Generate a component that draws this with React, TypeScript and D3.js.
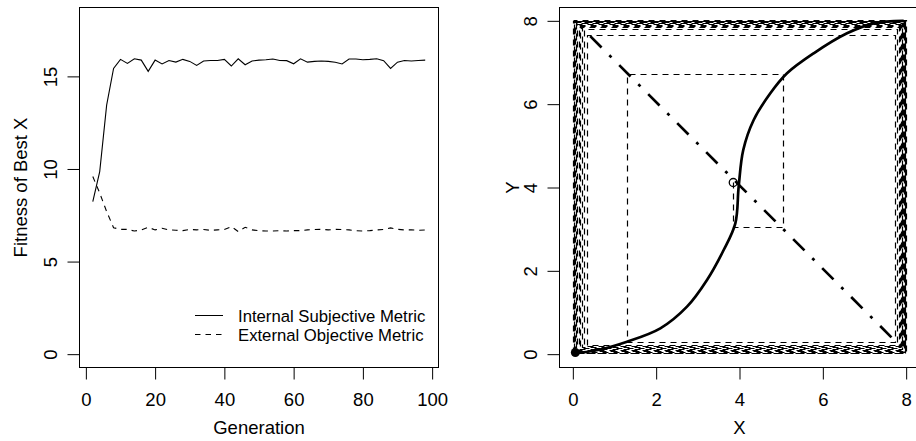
import * as d3 from 'd3';
import { useEffect, useRef } from 'react';

// left panel: fitness per generation
const generations = d3.range(2, 100, 2);
const internalMetric = [
  8.24, 9.86, 13.45, 15.43, 15.92, 15.70, 15.95, 15.88, 15.27, 15.88,
  15.67, 15.86, 15.77, 15.92, 15.81, 15.59, 15.83, 15.86, 15.86, 15.92,
  15.56, 15.95, 15.63, 15.83, 15.88, 15.90, 15.94, 15.86, 15.85, 15.68,
  15.95, 15.77, 15.81, 15.83, 15.81, 15.76, 15.67, 15.94, 15.94, 15.90,
  15.92, 15.95, 15.85, 15.43, 15.77, 15.86, 15.83, 15.86, 15.88,
];
const externalMetric = [
  9.59, 8.70, 7.70, 6.83, 6.74, 6.74, 6.65, 6.71, 6.85, 6.71,
  6.80, 6.71, 6.69, 6.67, 6.74, 6.71, 6.73, 6.69, 6.71, 6.73,
  6.89, 6.62, 6.85, 6.71, 6.67, 6.65, 6.65, 6.67, 6.65, 6.67,
  6.67, 6.71, 6.73, 6.74, 6.71, 6.74, 6.73, 6.71, 6.67, 6.65,
  6.67, 6.71, 6.73, 6.82, 6.74, 6.71, 6.71, 6.69, 6.71,
];
const legendLabels = ['Internal Subjective Metric', 'External Objective Metric'];
const genTicks = [0, 20, 40, 60, 80, 100];
const fitTicks = [0, 5, 10, 15];

// right panel: paths in X/Y
const curveX = [0.05, 0.6, 1.3, 2.1, 2.74, 3.22, 3.62, 3.9, 3.98, 4.09, 4.34, 4.74, 5.14, 5.78, 6.58, 7.22, 7.94];
const curveY = [0.02, 0.1, 0.3, 0.62, 1.14, 1.78, 2.5, 3.14, 4.02, 4.9, 5.62, 6.26, 6.74, 7.22, 7.7, 7.94, 8.0];
const spiralX = [
  3.85, 3.85, 5.05, 5.05, 1.30, 1.30, 7.75, 7.75, 0.35,
  0.35, 7.80, 7.80, 0.27, 0.27, 7.84, 7.84, 0.22, 0.22, 7.86, 7.86, 0.18,
  0.18, 7.88, 7.88, 0.15, 0.15, 7.90, 7.90, 0.12, 0.12, 7.92, 7.92, 0.10,
  0.10, 7.94, 7.94, 0.08, 0.08, 7.95, 7.95, 0.06, 0.06, 7.96, 7.96, 0.05,
  0.05, 7.97, 7.97, 0.04, 0.04, 7.98, 7.98, 0.03, 0.03, 7.99, 7.99, 0.02,
  0.02, 8.00, 8.00, 0.01,
];
const spiralY = [
  4.12, 3.05, 3.05, 6.72, 6.72, 0.28, 0.28, 7.66, 7.66,
  0.22, 0.22, 7.80, 7.80, 0.18, 0.18, 7.84, 7.84, 0.15, 0.15, 7.87, 7.87,
  0.13, 0.13, 7.89, 7.89, 0.11, 0.11, 7.91, 7.91, 0.09, 0.09, 7.93, 7.93,
  0.07, 0.07, 7.94, 7.94, 0.06, 0.06, 7.95, 7.95, 0.05, 0.05, 7.96, 7.96,
  0.04, 0.04, 7.97, 7.97, 0.03, 0.03, 7.98, 7.98, 0.02, 0.02, 7.99, 7.99,
  0.01, 0.01, 8.00, 8.00,
];
const diagX = [0.18, 7.85];
const diagY = [7.87, 0.2];
const startPoint = [3.85, 4.12];
const endPoint = [0.06, 0.04];
const xyTicks = [0, 2, 4, 6, 8];

const FONT = 'Liberation Sans, Arial, Helvetica, sans-serif';

// snap to pixel centre so 1px dashed lines stay crisp
const snap = (v: number) => Math.round(v - 0.5) + 0.5;

const App = () => {
  const ref = useRef<SVGSVGElement>(null);

  useEffect(() => {
    const svg = d3.select(ref.current);
    svg.selectAll('*').remove();
    svg.attr('font-family', FONT);

    const top = 7.5, bottom = 367.5;

    // scales
    const xL = d3.scaleLinear().domain([-1.84, 101.84]).range([79.5, 438.5]);
    const yL = d3.scaleLinear().domain([-0.72, 18.72]).range([bottom, top]);
    const xR = d3.scaleLinear().domain([-0.32, 8.32]).range([559.5, 919.5]);
    const yR = d3.scaleLinear().domain([-0.32, 8.32]).range([bottom, top]);

    const drawAxes = (x, y, xt, yt, xlab, ylab, ylabOffset) => {
      const [x0, x1] = x.range();
      svg.append('rect')
        .attr('x', x0).attr('y', top)
        .attr('width', x1 - x0).attr('height', bottom - top)
        .attr('fill', 'none').attr('stroke', '#000').attr('stroke-width', 1);

      const gx = svg.append('g')
        .attr('transform', `translate(0, ${bottom})`)
        .call(d3.axisBottom(x).tickValues(xt).tickSize(12).tickSizeOuter(0).tickPadding(13));
      gx.select('.domain').remove();
      gx.selectAll('text').attr('font-size', 18.5).attr('font-family', FONT).attr('fill', '#000');

      const gy = svg.append('g')
        .attr('transform', `translate(${x0}, 0)`)
        .call(d3.axisLeft(y).tickValues(yt).tickSize(12).tickSizeOuter(0));
      gy.select('.domain').remove();
      gy.selectAll('text')
        .attr('x', null).attr('dy', null)
        .attr('font-size', 18.5).attr('font-family', FONT).attr('fill', '#000')
        .attr('text-anchor', 'middle')
        .attr('transform', 'translate(-22.9, 0) rotate(-90)');

      svg.append('text')
        .attr('x', (x0 + x1) / 2).attr('y', 434)
        .attr('text-anchor', 'middle').attr('font-size', 18.5)
        .text(xlab);
      svg.append('text')
        .attr('transform', `translate(${x0 - ylabOffset}, ${(top + bottom) / 2}) rotate(-90)`)
        .attr('text-anchor', 'middle').attr('font-size', 18.5)
        .text(ylab);
    };

    drawAxes(xL, yL, genTicks, fitTicks, 'Generation', 'Fitness of Best X', 52.6);

    // left panel lines
    const lineL = d3.line<number>().x((d, i) => xL(generations[i])).y(d => yL(d));
    svg.append('path').datum(internalMetric)
      .attr('d', lineL).attr('fill', 'none').attr('stroke', '#000').attr('stroke-width', 1.1);
    svg.append('path').datum(externalMetric)
      .attr('d', lineL).attr('fill', 'none').attr('stroke', '#000').attr('stroke-width', 1.1)
      .attr('stroke-dasharray', '5.5,5');

    // legend
    legendLabels.forEach((label, i) => {
      const ly = 315.5 + i * 19;
      svg.append('line')
        .attr('x1', 195).attr('x2', 223).attr('y1', ly).attr('y2', ly)
        .attr('stroke', '#000').attr('stroke-width', 1)
        .attr('stroke-dasharray', i === 1 ? '5.5,5' : null);
      svg.append('text')
        .attr('x', 238).attr('y', ly + 6)
        .attr('font-size', 16.7)
        .text(label);
    });

    drawAxes(xR, yR, xyTicks, xyTicks, 'X', 'Y', 40.6);

    // clip right panel at the plot box
    svg.append('clipPath').attr('id', 'clipR')
      .append('rect').attr('x', 559.5).attr('y', top).attr('width', 360).attr('height', bottom - top);
    const gR = svg.append('g').attr('clip-path', 'url(#clipR)');

    const spiral = d3.line<number>()
      .x(d => snap(xR(spiralX[d])))
      .y(d => snap(yR(spiralY[d])));
    gR.append('path').datum(d3.range(spiralX.length))
      .attr('d', spiral).attr('fill', 'none').attr('stroke', '#000').attr('stroke-width', 1.2)
      .attr('stroke-dasharray', '6,5');

    const curve = d3.line<number>().x(d => xR(curveX[d])).y(d => yR(curveY[d])).curve(d3.curveCatmullRom);
    gR.append('path').datum(d3.range(curveX.length))
      .attr('d', curve).attr('fill', 'none').attr('stroke', '#000').attr('stroke-width', 2.7);

    gR.append('line')
      .attr('x1', xR(diagX[0])).attr('y1', yR(diagY[0]))
      .attr('x2', xR(diagX[1])).attr('y2', yR(diagY[1]))
      .attr('stroke', '#000').attr('stroke-width', 2.7)
      .attr('stroke-dasharray', '3,11,16,11');

    gR.append('circle')
      .attr('cx', xR(startPoint[0])).attr('cy', yR(startPoint[1])).attr('r', 4)
      .attr('fill', 'none').attr('stroke', '#000').attr('stroke-width', 1.3);
    gR.append('circle')
      .attr('cx', xR(endPoint[0])).attr('cy', yR(endPoint[1])).attr('r', 4.5)
      .attr('fill', '#000');
  }, []);

  return (
    <svg ref={ref} width={916} height={441}
      style={{ position: 'absolute', left: 0, top: 0, background: '#fff' }} />
  );
};

export default App;
